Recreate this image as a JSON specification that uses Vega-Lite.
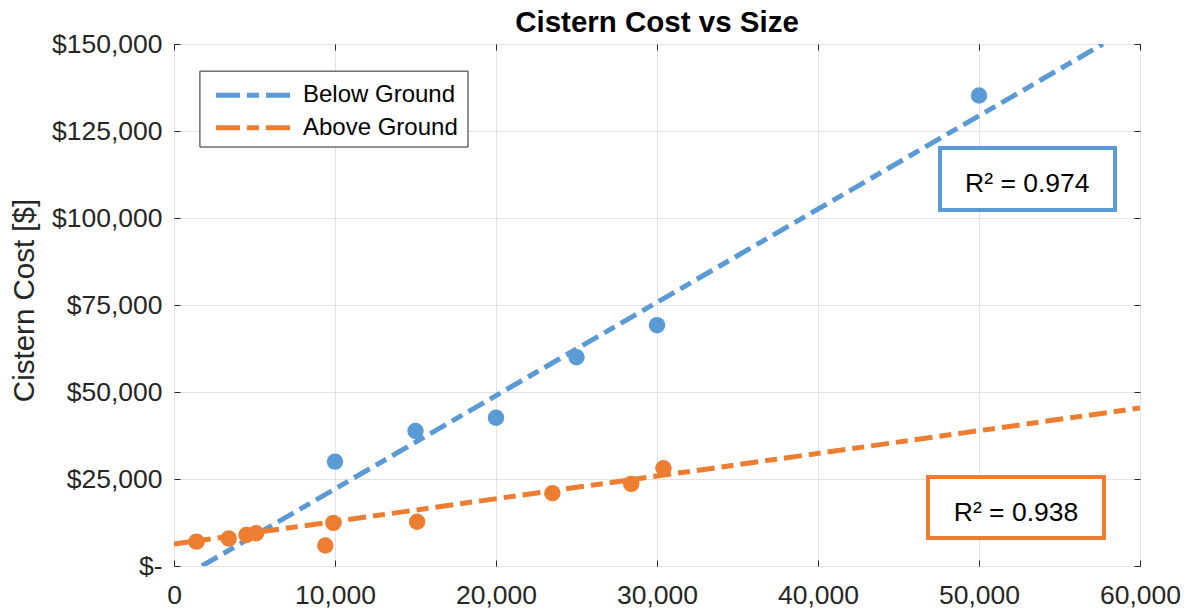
{
  "$schema": "https://vega.github.io/schema/vega-lite/v6.json",
  "width": 966,
  "height": 522,
  "autosize": {"type": "none"},
  "padding": {"left": 174, "top": 44, "right": 47, "bottom": 43},
  "background": "white",
  "title": {"text": "Cistern Cost vs Size", "font": "Liberation Sans", "fontSize": 29.5, "fontWeight": "bold", "color": "#000000", "anchor": "middle", "frame": "group", "offset": -30, "baseline": "alphabetic"},
  "config": {"view": {"stroke": "#262626", "strokeWidth": 1}, "font": "Liberation Sans"},
  "data": {"values": [{}]},
  "datasets": {
    "points": [
      {"series": "Below Ground", "size": 10000, "cost": 30000},
      {"series": "Below Ground", "size": 15000, "cost": 38800},
      {"series": "Below Ground", "size": 20000, "cost": 42600},
      {"series": "Below Ground", "size": 25000, "cost": 60000},
      {"series": "Below Ground", "size": 30000, "cost": 69200},
      {"series": "Below Ground", "size": 50000, "cost": 135200},
      {"series": "Above Ground", "size": 1400, "cost": 7000},
      {"series": "Above Ground", "size": 3400, "cost": 7900},
      {"series": "Above Ground", "size": 4500, "cost": 8900},
      {"series": "Above Ground", "size": 5100, "cost": 9400},
      {"series": "Above Ground", "size": 9900, "cost": 12400},
      {"series": "Above Ground", "size": 9400, "cost": 5900},
      {"series": "Above Ground", "size": 15100, "cost": 12700},
      {"series": "Above Ground", "size": 23500, "cost": 20900},
      {"series": "Above Ground", "size": 28400, "cost": 23600},
      {"series": "Above Ground", "size": 30400, "cost": 28100}
    ],
    "trend": [
      {"series": "Below Ground", "size": 1730, "cost": 0},
      {"series": "Below Ground", "size": 57700, "cost": 150000},
      {"series": "Above Ground", "size": 0, "cost": 6300},
      {"series": "Above Ground", "size": 60000, "cost": 45400}
    ]
  },
  "layer": [
    {
      "data": {"name": "trend"},
      "mark": {"type": "line", "strokeWidth": 5, "strokeDash": [18, 7, 12, 7], "clip": true},
      "encoding": {
        "x": {"field": "size", "type": "quantitative", "scale": {"domain": [0, 60000], "nice": false},
          "axis": {"values": [0, 10000, 20000, 30000, 40000, 50000, 60000], "labelExpr": "format(datum.value, ',')", "labelFont": "Liberation Sans", "labelFontSize": 26.5, "labelColor": "#262626", "labelPadding": 22, "tickSize": -6, "tickColor": "#262626", "grid": true, "gridColor": "#e3e3e3", "domain": false, "title": null, "labelFlush": false}},
        "y": {"field": "cost", "type": "quantitative", "scale": {"domain": [0, 150000], "nice": false},
          "axis": {"values": [0, 25000, 50000, 75000, 100000, 125000, 150000], "labelExpr": "datum.value == 0 ? '$-' : '$' + format(datum.value, ',')", "labelFont": "Liberation Sans", "labelFontSize": 26.5, "labelColor": "#262626", "labelPadding": 18, "tickSize": -6, "tickColor": "#262626", "grid": true, "gridColor": "#e3e3e3", "domain": false,
            "title": "Cistern Cost [$]", "titleFont": "Liberation Sans", "titleFontSize": 29.5, "titleFontWeight": "normal", "titleColor": "#262626", "titleX": -141, "titleY": 256, "titleAngle": -90, "titleBaseline": "alphabetic", "titleAlign": "center"}},
        "color": {"field": "series", "type": "nominal", "scale": {"domain": ["Below Ground", "Above Ground"], "range": ["#5b9bd5", "#ed7d31"]}, "legend": null}
      }
    },
    {
      "data": {"name": "points"},
      "mark": {"type": "circle", "size": 270, "opacity": 1},
      "encoding": {
        "x": {"field": "size", "type": "quantitative", "axis": {"orient": "top", "labels": false, "grid": false, "domain": false, "ticks": true, "tickSize": -6, "tickColor": "#262626", "values": [0, 10000, 20000, 30000, 40000, 50000, 60000], "title": null, "minExtent": 0}},
        "y": {"field": "cost", "type": "quantitative", "axis": {"orient": "right", "labels": false, "grid": false, "domain": false, "ticks": true, "tickSize": -6, "tickColor": "#262626", "values": [0, 25000, 50000, 75000, 100000, 125000, 150000], "title": null}},
        "color": {"field": "series", "type": "nominal", "legend": null}
      }
    },
    {
      "mark": {"type": "rect", "fill": "white", "stroke": "#262626", "strokeWidth": 1},
      "encoding": {
        "x": {"datum": 1610, "type": "quantitative", "axis": null},
        "x2": {"datum": 18260},
        "y": {"datum": 142200, "type": "quantitative", "axis": null},
        "y2": {"datum": 120400}
      }
    },
    {
      "mark": {"type": "rule", "strokeWidth": 5, "strokeDash": [24, 7, 12, 7]},
      "encoding": {
        "x": {"datum": 2610, "type": "quantitative", "axis": null},
        "x2": {"datum": 7390},
        "y": {"datum": 135300, "type": "quantitative", "axis": null},
        "color": {"datum": "Below Ground", "type": "nominal", "legend": null}
      }
    },
    {
      "mark": {"type": "rule", "strokeWidth": 5, "strokeDash": [24, 7, 12, 7]},
      "encoding": {
        "x": {"datum": 2610, "type": "quantitative", "axis": null},
        "x2": {"datum": 7390},
        "y": {"datum": 125900, "type": "quantitative", "axis": null},
        "color": {"datum": "Above Ground", "type": "nominal", "legend": null}
      }
    },
    {
      "mark": {"type": "text", "align": "left", "baseline": "middle", "fontSize": 24, "font": "Liberation Sans", "color": "#000000"},
      "encoding": {
        "x": {"datum": 8010, "type": "quantitative", "axis": null},
        "y": {"datum": 135300, "type": "quantitative", "axis": null},
        "text": {"value": "Below Ground"}
      }
    },
    {
      "mark": {"type": "text", "align": "left", "baseline": "middle", "fontSize": 24, "font": "Liberation Sans", "color": "#000000"},
      "encoding": {
        "x": {"datum": 8010, "type": "quantitative", "axis": null},
        "y": {"datum": 125900, "type": "quantitative", "axis": null},
        "text": {"value": "Above Ground"}
      }
    },
    {
      "mark": {"type": "rect", "fill": "white", "stroke": "#5b9bd5", "strokeWidth": 4},
      "encoding": {
        "x": {"datum": 47580, "type": "quantitative", "axis": null},
        "x2": {"datum": 58450},
        "y": {"datum": 120100, "type": "quantitative", "axis": null},
        "y2": {"datum": 102300}
      }
    },
    {
      "mark": {"type": "rect", "fill": "white", "stroke": "#ed7d31", "strokeWidth": 4},
      "encoding": {
        "x": {"datum": 46830, "type": "quantitative", "axis": null},
        "x2": {"datum": 57760},
        "y": {"datum": 25600, "type": "quantitative", "axis": null},
        "y2": {"datum": 8050}
      }
    },
    {
      "mark": {"type": "text", "align": "center", "baseline": "alphabetic", "fontSize": 26.5, "font": "Liberation Sans", "color": "#000000"},
      "encoding": {
        "x": {"datum": 53000, "type": "quantitative", "axis": null},
        "y": {"datum": 107600, "type": "quantitative", "axis": null},
        "text": {"value": "R² = 0.974"}
      }
    },
    {
      "mark": {"type": "text", "align": "center", "baseline": "alphabetic", "fontSize": 26.5, "font": "Liberation Sans", "color": "#000000"},
      "encoding": {
        "x": {"datum": 52300, "type": "quantitative", "axis": null},
        "y": {"datum": 12900, "type": "quantitative", "axis": null},
        "text": {"value": "R² = 0.938"}
      }
    }
  ],
  "resolve": {"axis": {"x": "independent", "y": "independent"}}
}
